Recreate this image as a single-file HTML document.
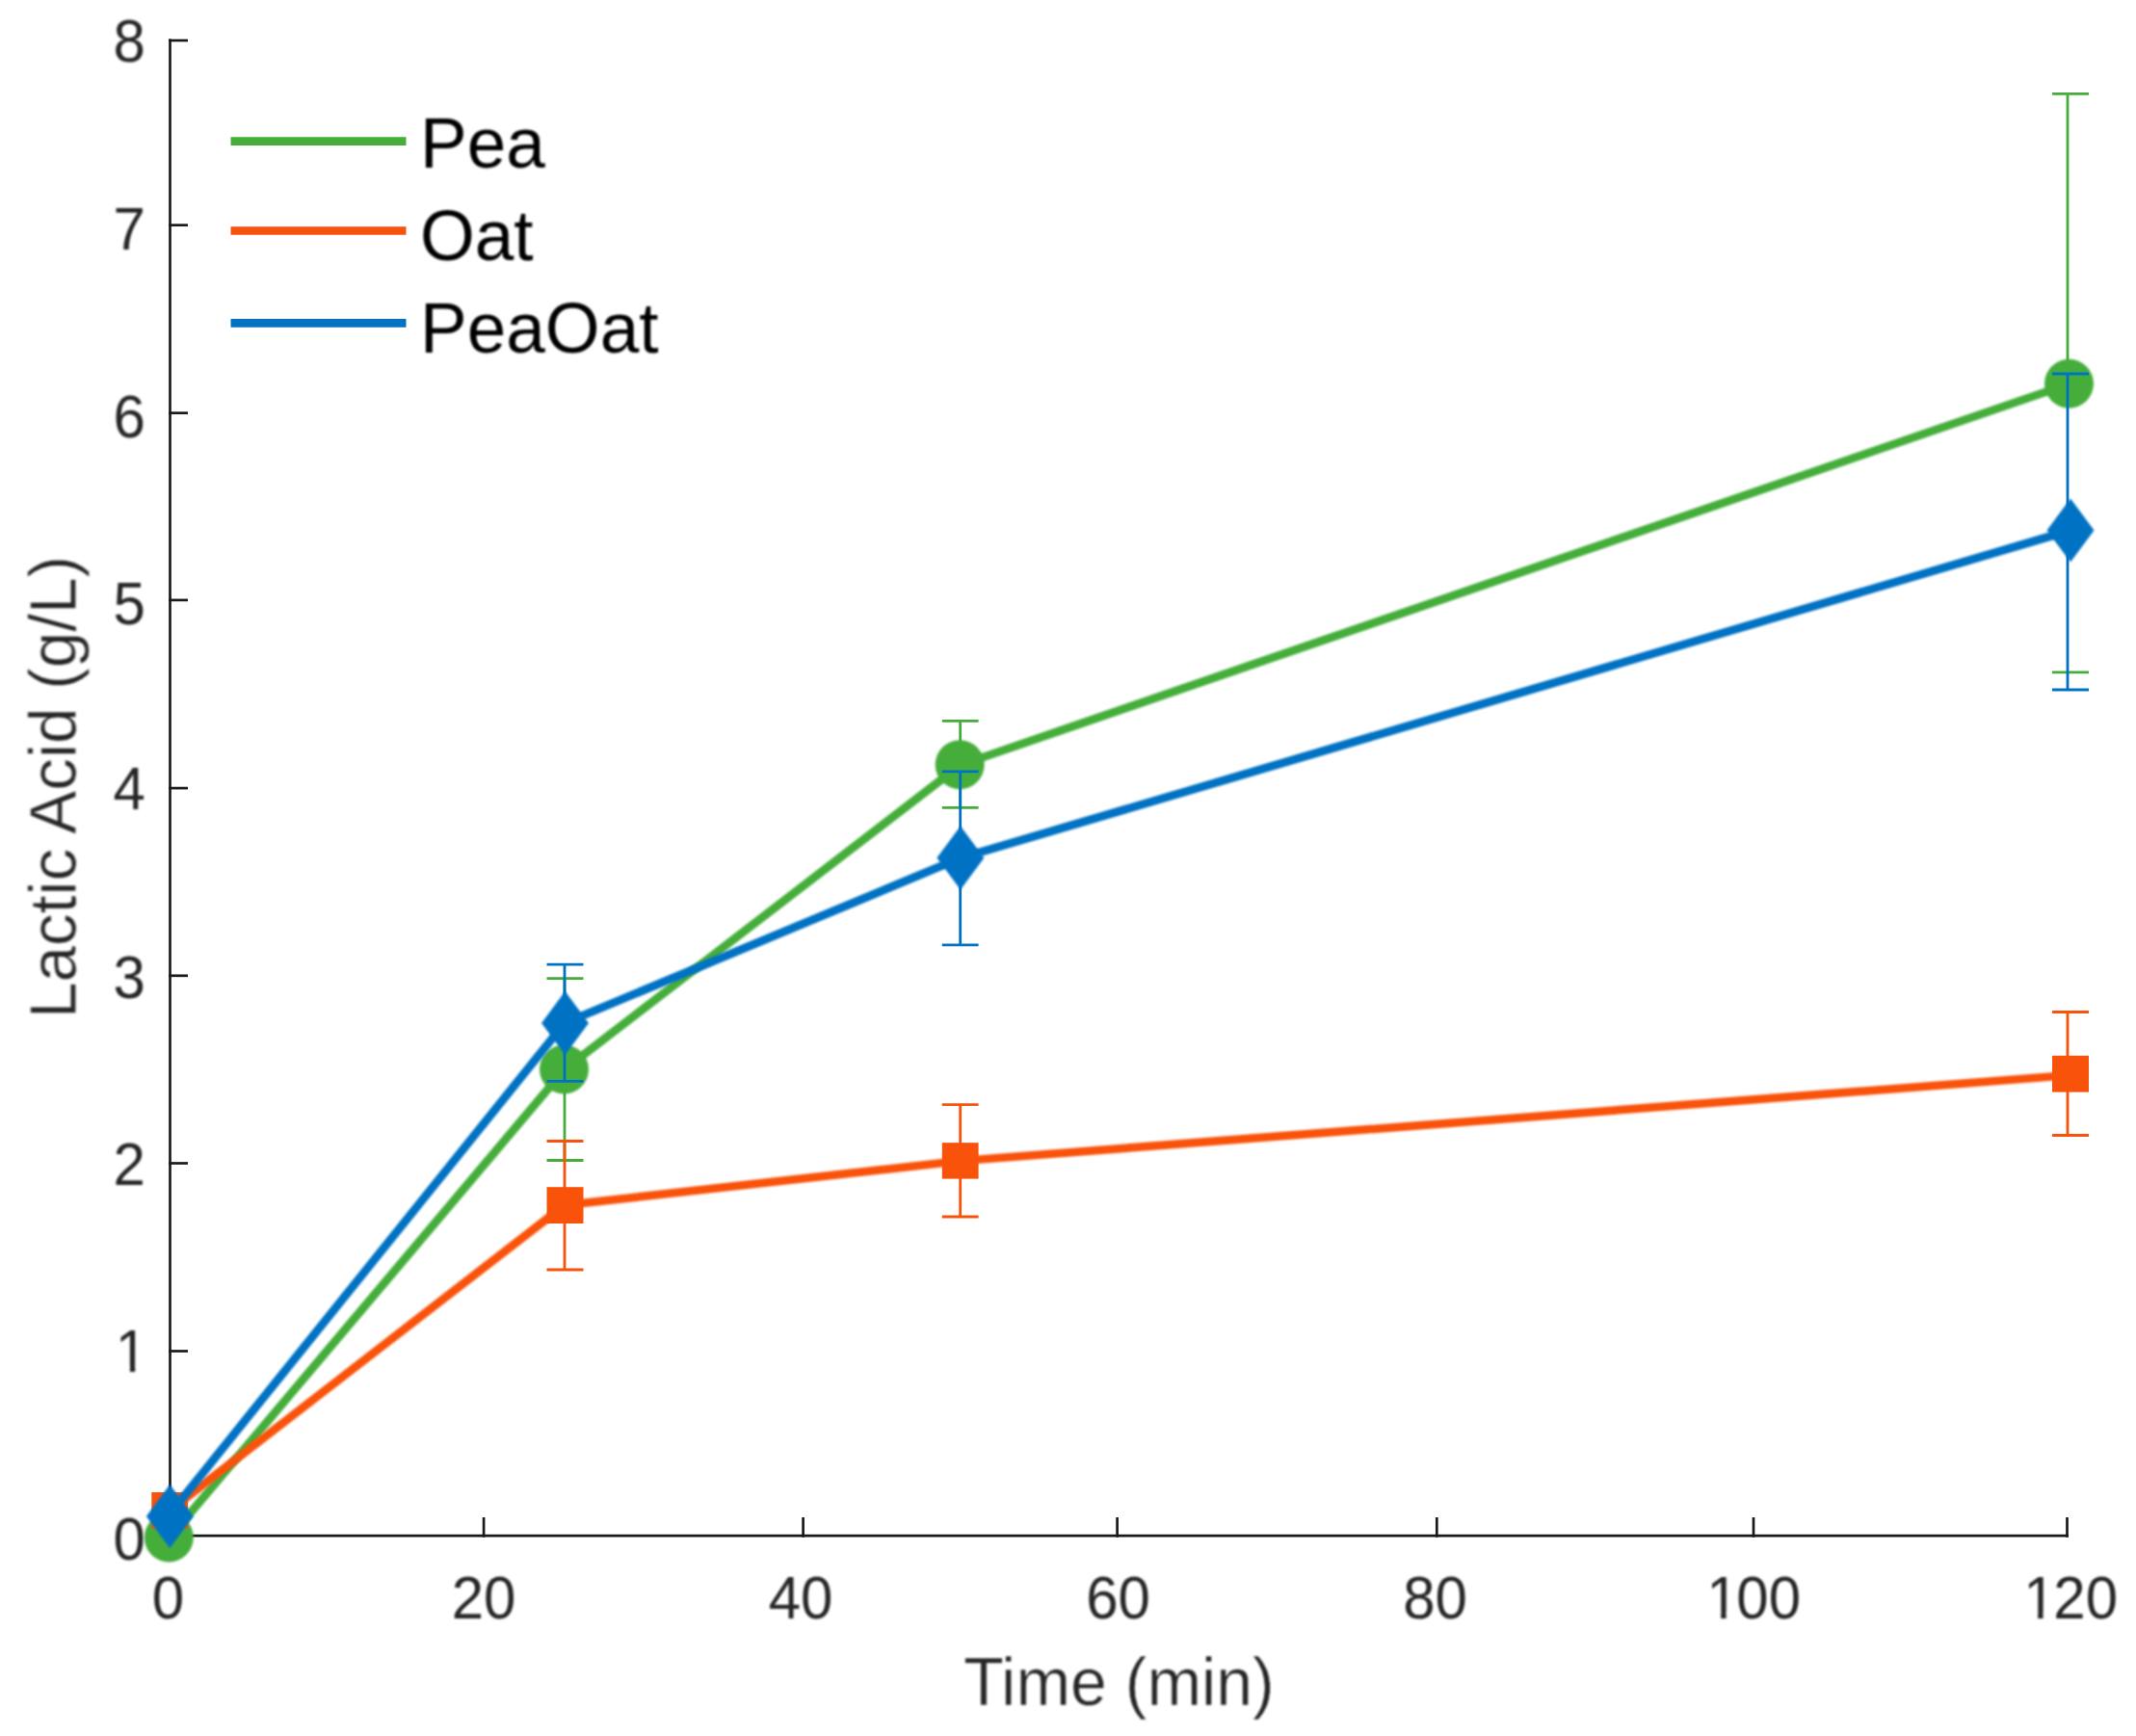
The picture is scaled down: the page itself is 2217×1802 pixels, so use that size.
<!DOCTYPE html>
<html lang="en">
<head>
<meta charset="utf-8">
<title>Lactic Acid vs Time</title>
<style>
  html, body { margin: 0; padding: 0; background: #ffffff; }
  body { width: 2217px; height: 1802px; overflow: hidden; }
  svg { display: block; }
  .soft { filter: blur(1px); }
  text { font-family: "Liberation Sans", sans-serif; }
  .tick { font-size: 60px; fill: #262626; }
  .lab { fill: #262626; stroke: #ffffff; stroke-width: 0.5px; }
  .leg { font-size: 73px; fill: #000000; }
  .ax { stroke: #1a1a1a; stroke-width: 2.7; fill: none; }
  .g { stroke: #45ae3b; } .o { stroke: #f9530b; } .b { stroke: #0072c4; }
  .gf { fill: #45ae3b; } .of { fill: #f9530b; } .bf { fill: #0072c4; }
  .ln { stroke-width: 8.7; fill: none; stroke-linejoin: miter; stroke-linecap: butt; }
  .eb { stroke-width: 2.8; fill: none; }
</style>
</head>
<body>
<svg width="2217" height="1802" viewBox="0 0 2217 1802">
  <rect x="0" y="0" width="2217" height="1802" fill="#ffffff"/>

  <g class="ax" id="axes">
    <line x1="176.5" y1="40.5" x2="176.5" y2="1595.7"/>
    <line x1="175" y1="1594.2" x2="2147" y2="1594.2"/>
    <line x1="175" y1="42" x2="195" y2="42"/>
    <line x1="175" y1="233.7" x2="195" y2="233.7"/>
    <line x1="175" y1="428.7" x2="195" y2="428.7"/>
    <line x1="175" y1="622.9" x2="195" y2="622.9"/>
    <line x1="175" y1="818.1" x2="195" y2="818.1"/>
    <line x1="175" y1="1012.8" x2="195" y2="1012.8"/>
    <line x1="175" y1="1207.5" x2="195" y2="1207.5"/>
    <line x1="175" y1="1402.5" x2="195" y2="1402.5"/>
    <line x1="502.1" y1="1575" x2="502.1" y2="1595.7"/>
    <line x1="833.6" y1="1575" x2="833.6" y2="1595.7"/>
    <line x1="1159.6" y1="1575" x2="1159.6" y2="1595.7"/>
    <line x1="1491.3" y1="1575" x2="1491.3" y2="1595.7"/>
    <line x1="1820" y1="1575" x2="1820" y2="1595.7"/>
    <line x1="2145.5" y1="1575" x2="2145.5" y2="1595.7"/>
  </g>
  <g class="tick soft" text-anchor="end" id="ylabels">
    <text transform="translate(151 64.3) scale(1 1.045)">8</text>
    <text transform="translate(151 258.6) scale(1 1.045)">7</text>
    <text transform="translate(151 454) scale(1 1.045)">6</text>
    <text transform="translate(151 648.2) scale(1 1.045)">5</text>
    <text transform="translate(151 840.2) scale(1 1.045)">4</text>
    <text transform="translate(151 1036) scale(1 1.045)">3</text>
    <text transform="translate(151 1230) scale(1 1.045)">2</text>
    <text transform="translate(153.2 1424) scale(1 1.045)">1</text>
    <text transform="translate(151 1619.2) scale(1 1.045)">0</text>
    <rect fill="#ffffff" stroke="none" x="121.90" y="1417.22" width="12.97" height="9.28"/>
    <rect fill="#ffffff" stroke="none" x="140.27" y="1417.22" width="12.55" height="9.28"/>
  </g>
  <g class="tick soft" text-anchor="middle" id="xlabels">
    <text transform="translate(174.5 1680.3) scale(1 1.045)">0</text>
    <text transform="translate(502 1680.3) scale(1 1.045)">20</text>
    <text transform="translate(831 1680.3) scale(1 1.045)">40</text>
    <text transform="translate(1160.5 1680.3) scale(1 1.045)">60</text>
    <text transform="translate(1489.5 1680.3) scale(1 1.045)">80</text>
    <text dx="2.2 -2.2" transform="translate(1817.9 1680.3) scale(1 1.045)">100</text>
    <text dx="2.2 -2.2" transform="translate(2146.9 1680.3) scale(1 1.045)">120</text>
    <rect fill="#ffffff" stroke="none" x="1773.22" y="1673.52" width="12.97" height="9.28"/>
    <rect fill="#ffffff" stroke="none" x="1791.59" y="1673.52" width="12.55" height="9.28"/>
    <rect fill="#ffffff" stroke="none" x="2102.22" y="1673.52" width="12.97" height="9.28"/>
    <rect fill="#ffffff" stroke="none" x="2120.59" y="1673.52" width="12.55" height="9.28"/>
  </g>
  <text class="lab soft" id="xlabel" text-anchor="middle" font-size="68" transform="translate(1161.5 1769.6) scale(1 1.03)">Time (min)</text>
  <text class="lab soft" id="ylabel" text-anchor="middle" font-size="67.5" transform="translate(78.6 817) rotate(-90) scale(1 1.02)">Lactic Acid (g/L)</text>
  <g id="pea">
    <polyline class="ln g soft" points="176,1596 586,1110 997,794 2149,398"/>
    <g class="eb g">
      <path d="M586,1015.6V1204.5M567.5,1015.6H605.5M567.5,1204.5H605.5"/>
      <path d="M996.7,748.4V838.4M977.8,748.4H1015.6M977.8,838.4H1015.6"/>
      <path d="M2146,97.4V389M2130,97.4H2168M2130,697.9H2168"/>
    </g>
    <circle class="gf soft" cx="175.3" cy="1596" r="25.5"/>
    <circle class="gf soft" cx="585.5" cy="1110" r="25.5"/>
    <circle class="gf soft" cx="996.2" cy="793.8" r="25.5"/>
    <circle class="gf soft" cx="2147.5" cy="398.2" r="25.5"/>
  </g>
  <g id="oat">
    <polyline class="ln o soft" points="176,1568 586,1251 997,1205 2149,1116"/>
    <g class="eb o">
      <path d="M586,1184.5V1318M567.5,1184.5H605.5M567.5,1318H605.5"/>
      <path d="M996.7,1146.7V1263M977.8,1146.7H1015.6M977.8,1263H1015.6"/>
      <path d="M2146,1050.5V1178.5M2130,1050.5H2168M2130,1178.5H2168"/>
    </g>
    <rect class="of" x="157.3" y="1549" width="37.8" height="37.8"/>
    <rect class="of" x="567.5" y="1232.2" width="38" height="37.8"/>
    <rect class="of" x="977.8" y="1186.2" width="37.8" height="37.4"/>
    <rect class="of" x="2130" y="1095.8" width="38" height="37.8"/>
  </g>
  <g id="peaoat">
    <polyline class="ln b soft" points="174.3,1574 586,1062 997,890.6 2149,550.5"/>
    <g class="eb b">
      <path d="M586,1001.1V1122.3M567.5,1001.1H605.5M567.5,1122.3H605.5"/>
      <path d="M996.7,800.8V980.8M977.8,800.8H1015.6M977.8,980.8H1015.6"/>
      <path d="M2146,388V716M2130,388H2168M2130,716H2168"/>
    </g>
    <polygon class="bf soft" points="176.3,1541 200.8,1574 176.3,1607 151.8,1574"/>
    <polygon class="bf soft" points="586.5,1029 611.0,1062 586.5,1095 562.0,1062"/>
    <polygon class="bf soft" points="996.9,857.6 1021.4,890.6 996.9,923.6 972.4,890.6"/>
    <polygon class="bf soft" points="2149,517.5 2173.5,550.5 2149,583.5 2124.5,550.5"/>
  </g>
  <g id="legend">
    <line class="ln g" x1="239.5" y1="146.6" x2="421.5" y2="146.6"/>
    <line class="ln o" x1="239.5" y1="239.5" x2="421.5" y2="239.5"/>
    <line class="ln b" x1="239.5" y1="335.4" x2="421.5" y2="335.4"/>
    <text class="leg soft" transform="translate(436 173.6) scale(1 1.025)">Pea</text>
    <text class="leg soft" transform="translate(436 269.6) scale(1 1.025)">Oat</text>
    <text class="leg soft" transform="translate(436 365.6) scale(1 1.025)">PeaOat</text>
  </g>
</svg>
</body>
</html>
